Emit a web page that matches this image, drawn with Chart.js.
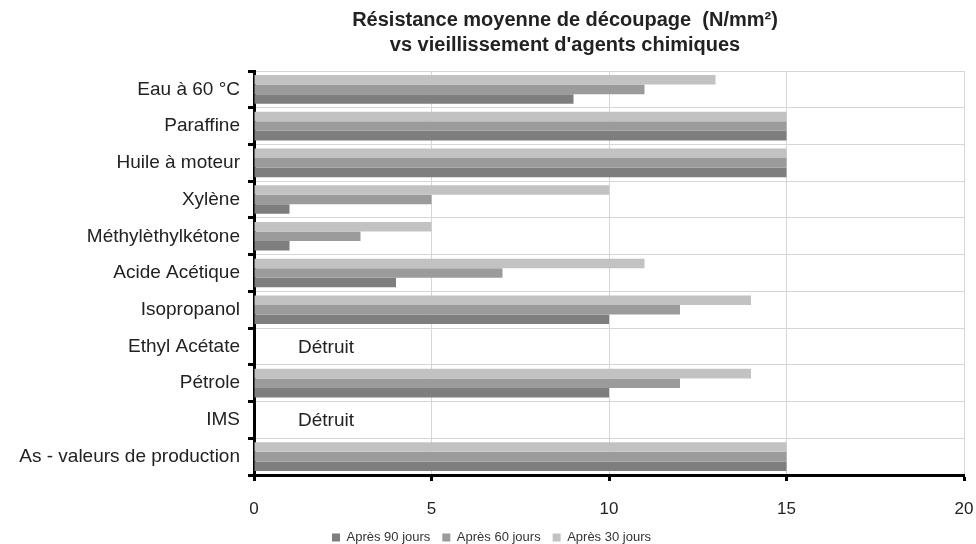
<!DOCTYPE html>
<html>
<head>
<meta charset="utf-8">
<script src="https://cdn.jsdelivr.net/npm/chart.js@4/dist/chart.umd.min.js"></script>
<style>
  body { margin: 0; background: #fff; }
  #wrap { width: 976px; height: 544px; position: relative; }
</style>
</head>
<body>
<div id="wrap"><canvas id="chart"></canvas></div>
<script>
// Catégories (haut vers bas)
const categories = [
    'Eau à 60 °C', 'Paraffine', 'Huile à moteur', 'Xylène', 'Méthylèthylkétone',
    'Acide Acétique', 'Isopropanol', 'Ethyl Acétate', 'Pétrole', 'IMS',
    'As - valeurs de production'
];
// Valeurs (N/mm²)
const apres30 = [13, 15, 15, 10, 5, 11, 14, 0, 14, 0, 15];
const apres60 = [11, 15, 15, 5, 3, 7, 12, 0, 12, 0, 15];
const apres90 = [9, 15, 15, 1, 1, 4, 10, 0, 10, 0, 15];
const detruits = ['Ethyl Acétate', 'IMS'];
const xTicks = [0, 5, 10, 15, 20];
const titleLines = ['Résistance moyenne de découpage  (N/mm²)', "vs vieillissement d'agents chimiques"];

const FONT = '"Liberation Sans", Arial, sans-serif';

// Titre + texte "Détruit"
const annotations = {
    id: 'annotations',
    afterDraw(chart) {
        const ctx = chart.ctx;
        const x = chart.scales.x;
        const y = chart.scales.y;
        ctx.save();
        ctx.fillStyle = '#222';
        ctx.font = 'bold 20px ' + FONT;
        ctx.textAlign = 'center';
        ctx.textBaseline = 'middle';
        ctx.fillText(titleLines[0], 565, 20);
        ctx.fillText(titleLines[1], 565, 45);

        ctx.font = '19px ' + FONT;
        ctx.textAlign = 'left';
        detruits.forEach(name => {
            const idx = categories.indexOf(name);
            ctx.fillText('Détruit', x.getPixelForValue(0) + 44, y.getPixelForValue(idx) + 1);
        });
        ctx.restore();
    }
};

new Chart(document.getElementById('chart'), {
    type: 'bar',
    data: {
        labels: categories,
        datasets: [
            { label: 'Après 30 jours', data: apres30, backgroundColor: '#c2c2c2' },
            { label: 'Après 60 jours', data: apres60, backgroundColor: '#9b9b9b' },
            { label: 'Après 90 jours', data: apres90, backgroundColor: '#7e7e7e' }
        ]
    },
    options: {
        indexAxis: 'y',
        responsive: true,
        maintainAspectRatio: false,
        animation: false,
        categoryPercentage: 0.78,
        barPercentage: 1,
        layout: { padding: { top: 71, right: 1, left: 8, bottom: -10 } },
        plugins: {
            title: { display: false },
            tooltip: { enabled: false },
            legend: {
                position: 'bottom',
                reverse: true,
                labels: {
                    boxWidth: 8, boxHeight: 8, padding: 12,
                    color: '#333',
                    font: { family: FONT, size: 13 }
                }
            }
        },
        scales: {
            x: {
                min: 0, max: 20,
                afterBuildTicks(axis) { axis.ticks = xTicks.map(v => ({ value: v })); },
                afterFit(axis) { axis.height = 44; axis.paddingRight = 12; },
                border: { color: '#000', width: 3 },
                grid: { color: '#d6d6d6', lineWidth: 1, tickColor: '#000', tickWidth: 3, tickLength: 6 },
                ticks: { color: '#222', font: { family: FONT, size: 17 }, padding: 18 }
            },
            y: {
                afterFit(axis) { axis.width = 246; },
                border: { color: '#000', width: 3 },
                grid: { offset: true, color: '#d6d6d6', lineWidth: 1, tickColor: '#000', tickWidth: 3, tickLength: 6 },
                ticks: { color: '#222', font: { family: FONT, size: 19 }, padding: 8 }
            }
        }
    },
    plugins: [annotations]
});
</script>
</body>
</html>
